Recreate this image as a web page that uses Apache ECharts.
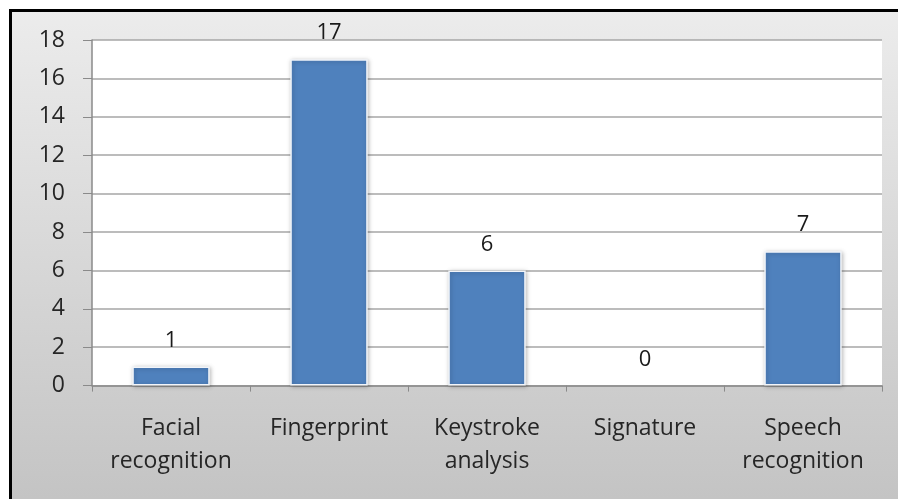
<!DOCTYPE html>
<html><head><meta charset="utf-8">
<script src="https://cdn.jsdelivr.net/npm/echarts@6/dist/echarts.min.js"></script>
<style>html,body{margin:0;padding:0;background:#fff}#c{width:898px;height:499px}</style>
</head><body><div id="c"></div>
<script>
const categories = ['Facial\nrecognition', 'Fingerprint', 'Keystroke\nanalysis', 'Signature', 'Speech\nrecognition'];
const values = [1, 17, 6, 0, 7];
const yTicks = [0, 2, 4, 6, 8, 10, 12, 14, 16, 18];

const chart = echarts.init(document.getElementById('c'), null, {renderer: 'canvas'});
const font = '"Open Sans", sans-serif';
chart.setOption({
  animation: false,
  backgroundColor: '#fff',
  graphic: [
    {type: 'rect', z: -10, shape: {x: 10, y: 10, width: 900, height: 500},
     style: {fill: new echarts.graphic.LinearGradient(0, 0, 0, 1, [
       {offset: 0, color: '#ececec'}, {offset: 1, color: '#c3c3c3'}])}},
    {type: 'rect', z: 10, shape: {x: 9, y: 9, width: 900, height: 3}, style: {fill: '#000'}},
    {type: 'rect', z: 10, shape: {x: 9, y: 9, width: 3, height: 500}, style: {fill: '#000'}}
  ],
  grid: {left: 92, right: 16, top: 40, bottom: 113.4, show: true, backgroundColor: '#fff', borderWidth: 0},
  xAxis: {
    type: 'category', data: categories,
    axisLine: {lineStyle: {color: '#8a8a8a', width: 1.5}},
    axisTick: {show: true, length: 6, lineStyle: {color: '#8a8a8a'}},
    axisLabel: {fontFamily: font, fontSize: 23, color: '#262626', lineHeight: 33, margin: 26, interval: 0}
  },
  yAxis: {
    type: 'value', min: 0, max: 18, interval: 2,
    axisLine: {show: true, lineStyle: {color: '#8a8a8a', width: 1.5}},
    axisTick: {show: true, length: 9, lineStyle: {color: '#8a8a8a'}},
    axisLabel: {fontFamily: font, fontSize: 23, color: '#262626', margin: 27,
      formatter: v => yTicks.includes(v) ? String(v) : ''},
    splitLine: {lineStyle: {color: '#a6a6a6', width: 1.5}}
  },
  series: [{
    type: 'bar', barWidth: '49%',
    data: values.map(v => v === 0
      ? {value: v, itemStyle: {borderWidth: 0, shadowBlur: 0, shadowOffsetX: 0, shadowOffsetY: 0, opacity: 0}}
      : v),
    itemStyle: {color: '#4f81bd', borderColor: '#f2f5fa', borderWidth: 1.5,
      shadowBlur: 4, shadowColor: 'rgba(0,0,0,0.25)', shadowOffsetX: 1, shadowOffsetY: 1},
    label: {show: true, position: 'top', distance: 15, fontFamily: font, fontSize: 22, color: '#1a1a1a', opacity: 1}
  }]
});
</script></body></html>
